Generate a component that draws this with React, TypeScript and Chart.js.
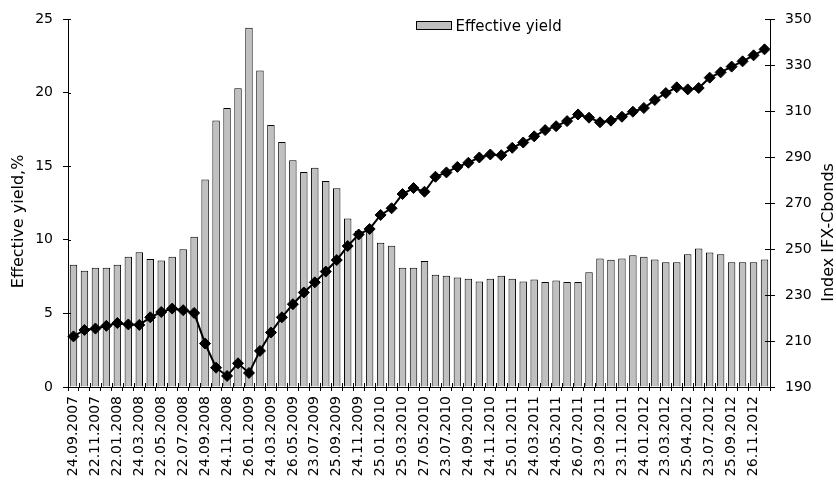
import React, { useEffect, useRef } from 'react';
import { Chart, registerables } from 'chart.js';

Chart.register(...registerables);

const tickDates = [
  '24.09.2007', '22.11.2007', '22.01.2008', '24.03.2008', '22.05.2008', '22.07.2008',
  '24.09.2008', '24.11.2008', '26.01.2009', '24.03.2009', '26.05.2009', '23.07.2009',
  '25.09.2009', '24.11.2009', '25.01.2010', '25.03.2010', '27.05.2010', '23.07.2010',
  '24.09.2010', '24.11.2010', '25.01.2011', '24.03.2011', '24.05.2011', '26.07.2011',
  '23.09.2011', '23.11.2011', '24.01.2012', '23.03.2012', '25.04.2012', '23.07.2012',
  '25.09.2012', '26.11.2012',
];

const yieldValues = [
  8.3, 7.9, 8.1, 8.1, 8.3, 8.85, 9.15, 8.7, 8.6, 8.85, 9.35, 10.2,
  14.1, 18.1, 18.95, 20.3, 24.4, 21.5, 17.8, 16.65, 15.4, 14.6, 14.9, 14.0,
  13.5, 11.45, 10.6, 10.75, 9.8, 9.6, 8.1, 8.1, 8.56, 7.63, 7.55, 7.44,
  7.35, 7.17, 7.35, 7.55, 7.35, 7.17, 7.3, 7.14, 7.24, 7.14, 7.14, 7.8,
  8.73, 8.64, 8.73, 8.95, 8.85, 8.66, 8.48, 8.48, 9.02, 9.41, 9.14, 9.02,
  8.48, 8.48, 8.48, 8.66,
];

const indexValues = [
  212.0, 214.8, 215.4, 216.6, 217.8, 217.2, 217.0, 220.3, 222.6, 224.1, 223.4, 222.2,
  208.9, 198.4, 194.8, 200.3, 196.1, 205.7, 213.7, 220.3, 226.0, 231.1, 235.5, 240.2,
  245.2, 251.3, 256.3, 258.7, 264.8, 267.7, 273.9, 276.5, 274.9, 281.4, 283.3, 285.7,
  287.5, 289.8, 291.1, 290.8, 294.0, 296.3, 299.0, 301.7, 303.4, 305.6, 308.5, 307.1,
  305.1, 305.8, 307.5, 309.7, 311.3, 314.8, 317.8, 320.3, 319.4, 320.0, 324.5, 326.8,
  329.3, 331.6, 334.2, 336.8,
];

const yieldLabel = 'Effective yield';
const leftTitle = 'Effective yield,%';
const rightTitle = 'Index IFX-Cbonds';

const FONT = "'DejaVu Sans', sans-serif";
const BAR_FILL = '#c0c0c0';

export default function App() {
  const ref = useRef<HTMLCanvasElement | null>(null);

  useEffect(() => {
    if (!ref.current) return;
    const labels = yieldValues.map((_, i) => (i % 2 === 0 ? tickDates[i / 2] ?? '' : ''));

    const overlay = {
      id: 'overlay',
      afterDraw(chart: any) {
        const ctx = chart.ctx as CanvasRenderingContext2D;
        const xs = chart.scales.x;
        const ys = chart.scales.y;
        const y1s = chart.scales.y1;
        const area = chart.chartArea;
        ctx.save();
        ctx.strokeStyle = '#000';
        ctx.lineWidth = 1;
        ctx.beginPath();
        const n = chart.data.labels.length;
        for (let i = 0; i <= n; i++) {
          const px = Math.round(xs.getPixelForValue(i - 0.5)) + 0.5;
          ctx.moveTo(px, xs.top);
          ctx.lineTo(px, xs.top - 4);
        }
        ys.ticks.forEach((t: any) => {
          const py = Math.round(ys.getPixelForValue(t.value)) + 0.5;
          ctx.moveTo(ys.right, py);
          ctx.lineTo(ys.right + 3, py);
        });
        y1s.ticks.forEach((t: any) => {
          const py = Math.round(y1s.getPixelForValue(t.value)) + 0.5;
          ctx.moveTo(y1s.left, py);
          ctx.lineTo(y1s.left - 5, py);
        });
        ctx.stroke();

        // axis titles
        ctx.fillStyle = '#000';
        ctx.font = `16px ${FONT}`;
        ctx.textAlign = 'center';
        ctx.textBaseline = 'middle';
        ctx.save();
        ctx.translate(19, area.top + (area.bottom - area.top) * 0.55);
        ctx.rotate(-Math.PI / 2);
        ctx.fillText(leftTitle, 0, 0);
        ctx.restore();
        ctx.save();
        ctx.translate(829, area.top + (area.bottom - area.top) * 0.58);
        ctx.rotate(-Math.PI / 2);
        ctx.fillText(rightTitle, 0, 0);
        ctx.restore();

        // legend
        const bx = area.left + 348.5;
        const by = area.top + 2.5;
        ctx.fillStyle = BAR_FILL;
        ctx.fillRect(bx, by, 35, 8);
        ctx.strokeRect(bx, by, 35, 8);
        ctx.fillStyle = '#000';
        ctx.font = `15px ${FONT}`;
        ctx.textAlign = 'left';
        ctx.textBaseline = 'alphabetic';
        ctx.fillText(yieldLabel, bx + 39, by + 9);
        ctx.restore();
      },
    };

    const tickFont = { family: FONT, size: 14 };

    const chart = new Chart(ref.current, {
      type: 'bar',
      data: {
        labels,
        datasets: [
          {
            type: 'line',
            label: 'Index IFX-Cbonds',
            data: indexValues,
            yAxisID: 'y1',
            borderColor: '#000',
            borderWidth: 2,
            backgroundColor: '#000',
            pointStyle: 'rectRot',
            pointRadius: 5.5,
            pointBorderWidth: 1,
            pointBackgroundColor: '#000',
            pointBorderColor: '#000',
            tension: 0,
            order: 0,
          } as any,
          {
            type: 'bar',
            label: yieldLabel,
            data: yieldValues,
            yAxisID: 'y',
            backgroundColor: BAR_FILL,
            borderColor: '#000',
            borderWidth: 1,
            barPercentage: 0.68,
            categoryPercentage: 1,
            order: 1,
          } as any,
        ],
      },
      options: {
        responsive: false,
        animation: false,
        devicePixelRatio: 1,
        layout: { padding: { top: 19, left: 0, right: 0, bottom: 0 } },
        plugins: {
          legend: { display: false },
          tooltip: { enabled: false },
        },
        scales: {
          x: {
            type: 'category',
            offset: true,
            grid: {
              display: true,
              offset: true,
              drawOnChartArea: false,
              drawTicks: true,
              tickLength: 4,
              color: '#000',
              lineWidth: 1,
            },
            border: { display: true, color: '#000', width: 1 },
            ticks: {
              autoSkip: false,
              maxRotation: 90,
              minRotation: 90,
              padding: 5,
              color: '#000',
              font: tickFont,
            },
            afterFit: (s: any) => {
              s.height = 94;
            },
          },
          y: {
            position: 'left',
            min: 0,
            max: 25,
            grid: { drawOnChartArea: false, drawTicks: true, tickLength: 5, color: '#000' },
            border: { display: true, color: '#000', width: 1 },
            ticks: { stepSize: 5, padding: 10, color: '#000', font: tickFont },
            afterFit: (s: any) => {
              s.width = 68;
            },
          },
          y1: {
            position: 'right',
            min: 190,
            max: 350,
            grid: { drawOnChartArea: false, drawTicks: true, tickLength: 5, color: '#000' },
            border: { display: true, color: '#000', width: 1 },
            ticks: { stepSize: 20, padding: 10, color: '#000', font: tickFont },
            afterFit: (s: any) => {
              s.width = 66;
            },
          },
        },
      } as any,
      plugins: [overlay],
    });

    return () => chart.destroy();
  }, []);

  return (
    <div style={{ position: 'fixed', left: 0, top: 0, width: 836, height: 481, background: '#fff' }}>
      <canvas ref={ref} width={836} height={481} style={{ display: 'block' }} />
    </div>
  );
}
